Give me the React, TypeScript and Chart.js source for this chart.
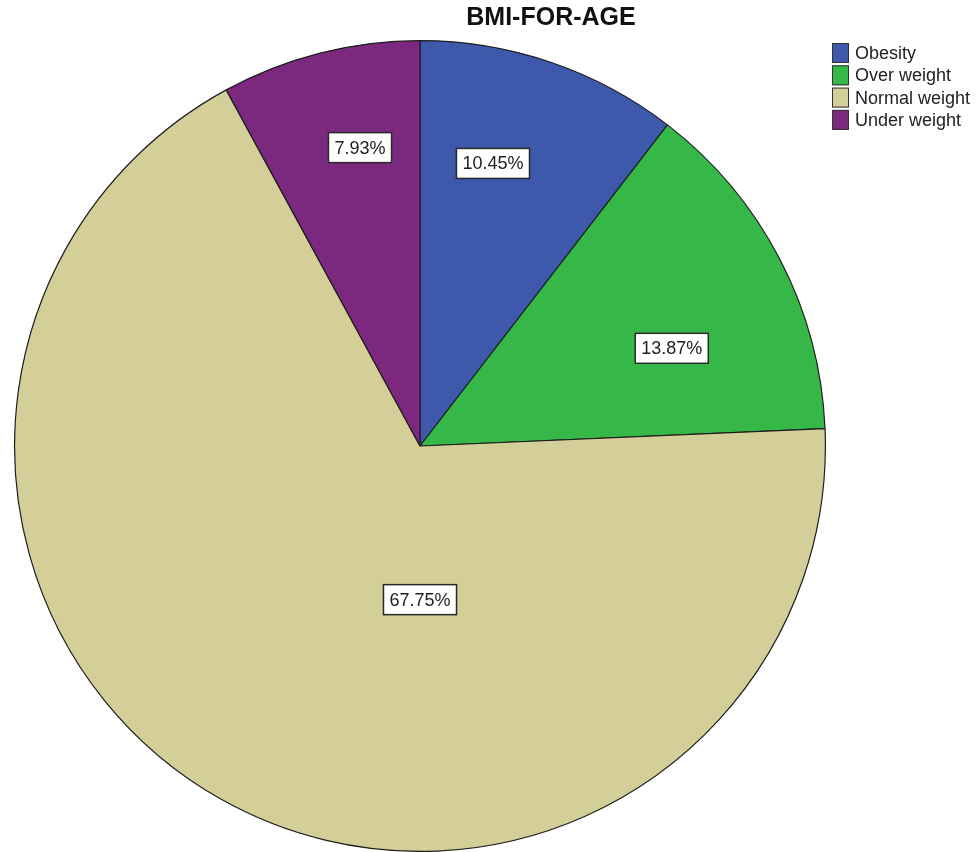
import React, { useEffect, useRef } from "react";
import { Chart, registerables } from "chart.js";

Chart.register(...registerables);

const TITLE = "BMI-FOR-AGE";
const categories = ["Obesity", "Over weight", "Normal weight", "Under weight"];
const percentages = [10.45, 13.87, 67.75, 7.93];
const valueLabels = ["10.45%", "13.87%", "67.75%", "7.93%"];
const colors = ["#3e58ac", "#35b847", "#d4cf98", "#7b287e"];

// label anchor offsets from the pie centre, in units of the pie radius
const labelOffsets: [number, number][] = [
  [0.18, -0.697],
  [0.621, -0.241],
  [0.0, 0.379],
  [-0.148, -0.736],
];

const overlayPlugin = {
  id: "overlay",
  afterDraw(chart: any) {
    const ctx = chart.ctx as CanvasRenderingContext2D;
    ctx.save();
    // title
    ctx.fillStyle = "#111";
    ctx.font = "bold 25px 'Liberation Sans', Arial, sans-serif";
    ctx.textAlign = "center";
    ctx.textBaseline = "middle";
    ctx.fillText(TITLE, 551, 18);

    // value labels
    const meta = chart.getDatasetMeta(0);
    ctx.font = "18px 'Liberation Sans', Arial, sans-serif";
    meta.data.forEach((arc: any, i: number) => {
      const r = arc.outerRadius;
      const cx = arc.x + labelOffsets[i][0] * r;
      const cy = arc.y + labelOffsets[i][1] * r;
      const text = valueLabels[i];
      const w = ctx.measureText(text).width + 12;
      const h = 30;
      ctx.fillStyle = "#ffffff";
      ctx.fillRect(cx - w / 2, cy - h / 2, w, h);
      ctx.strokeStyle = "#2a2a2a";
      ctx.lineWidth = 1.5;
      ctx.strokeRect(cx - w / 2, cy - h / 2, w, h);
      ctx.fillStyle = "#222";
      ctx.textAlign = "center";
      ctx.textBaseline = "middle";
      ctx.fillText(text, cx, cy + 1);
    });

    // legend
    ctx.font = "18px 'Liberation Sans', Arial, sans-serif";
    ctx.textAlign = "left";
    ctx.textBaseline = "middle";
    categories.forEach((c, i) => {
      const top = 43 + i * 22.3;
      ctx.fillStyle = colors[i];
      ctx.fillRect(832, top, 17, 20);
      ctx.strokeStyle = "#333";
      ctx.lineWidth = 1;
      ctx.strokeRect(832.5, top + 0.5, 16, 19);
      ctx.fillStyle = "#222";
      ctx.fillText(c, 855, top + 11);
    });
    ctx.restore();
  },
};

export default function App() {
  const ref = useRef<HTMLCanvasElement>(null);
  useEffect(() => {
    if (!ref.current) return;
    const chart = new Chart(ref.current, {
      type: "pie",
      data: {
        labels: categories,
        datasets: [
          {
            data: percentages,
            backgroundColor: colors,
            borderColor: "#1e1e1e",
            borderWidth: 1.2,
          },
        ],
      },
      options: {
        animation: false,
        responsive: false,
        devicePixelRatio: 1,
        layout: { padding: { top: 40, left: 14, right: 151, bottom: 0 } },
        plugins: {
          legend: { display: false },
          title: { display: false },
          tooltip: { enabled: false },
        },
      },
      plugins: [overlayPlugin],
    });
    return () => chart.destroy();
  }, []);
  return (
    <div style={{ position: "absolute", left: 0, top: 0, width: 977, height: 852, background: "#fff" }}>
      <canvas ref={ref} width={977} height={852} style={{ width: 977, height: 852 }} />
    </div>
  );
}
